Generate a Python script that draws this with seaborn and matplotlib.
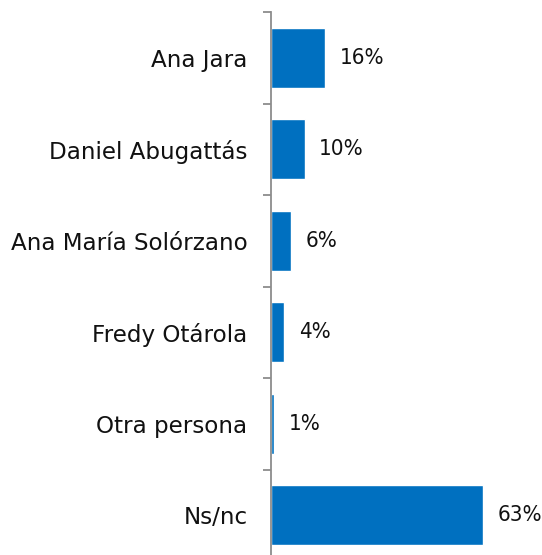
import matplotlib
matplotlib.use("Agg")
import matplotlib.pyplot as plt
import seaborn as sns
import numpy as np

# datos
candidatos = ["Ana Jara", "Daniel Abugattás", "Ana María Solórzano",
              "Fredy Otárola", "Otra persona", "Ns/nc"]
porcentajes = [16, 10, 6, 4, 1, 63]

sns.set_style("white")
plt.rcParams['font.family'] = ['DejaVu Sans']

fig = plt.figure(figsize=(5.42, 5.55), dpi=100)
# el ultimo tramo del eje continua por debajo del borde inferior
ax = fig.add_axes([271 / 542, -6 / 555, 271 / 542, 549 / 555])

sns.barplot(x=porcentajes, y=candidatos, orient="h", color="#0070C0",
            saturation=1, width=0.655, ax=ax)

ax.set_xlim(0, 80.6)
ax.set_ylim(len(candidatos) - 0.5, -0.5)

# etiquetas de valor (version condensada para que quepa 63%)
for i, v in enumerate(porcentajes):
    ax.annotate(f"{v}%", xy=(v, i), xytext=(10.5, 0), textcoords="offset points",
                va="center", ha="left", fontsize=16, fontstretch="condensed",
                color="#111111")

for s in ["top", "right", "bottom"]:
    ax.spines[s].set_visible(False)
ax.spines["left"].set_color("#8c8c8c")
ax.spines["left"].set_linewidth(1.3)

ax.set_xticks([])
ax.set_yticks(range(len(candidatos)))
ax.set_yticklabels(candidatos, fontsize=16.6, color="#111111")
ax.tick_params(axis="y", which="major", length=0, pad=17)
ax.set_yticks(np.arange(-0.5, len(candidatos), 1.0), minor=True)
ax.tick_params(axis="y", which="minor", left=True, length=6, width=1.3,
               color="#8c8c8c", direction="out")
ax.set_xlabel("")
ax.set_ylabel("")

fig.savefig("out.png", dpi=100)
